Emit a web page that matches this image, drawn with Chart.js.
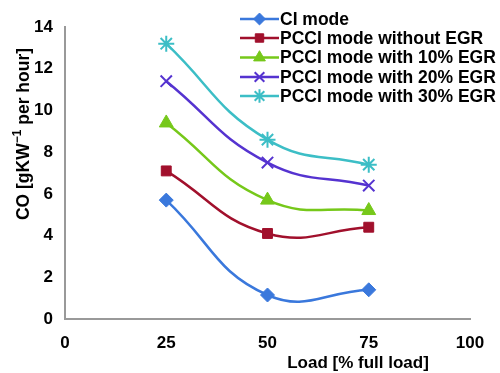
<!DOCTYPE html>
<html>
<head>
<meta charset="utf-8">
<script src="https://cdn.jsdelivr.net/npm/chart.js@4"></script>
<style>
html, body { margin: 0; padding: 0; background: #fff; }
#wrap { width: 500px; height: 373px; position: relative; }
</style>
</head>
<body>
<div id="wrap"><canvas id="myChart"></canvas></div>
<script>
var loads = [25, 50, 75];
var ciMode = [5.7, 1.15, 1.4];
var pcciNoEgr = [7.1, 4.1, 4.4];
var pcci10 = [9.4, 5.7, 5.2];
var pcci20 = [11.4, 7.5, 6.4];
var pcci30 = [13.2, 8.6, 7.4];
var xTicks = [0, 25, 50, 75, 100];
var seriesNames = ['CI mode', 'PCCI mode without EGR', 'PCCI mode with 10% EGR', 'PCCI mode with 20% EGR', 'PCCI mode with 30% EGR'];
var xTitle = 'Load [% full load]';
var yTitleParts = ['CO [gKW', '\u22121', ' per hour]'];

var FONT = '"Liberation Sans", Arial, sans-serif';

function pts(vals) {
	return vals.map(function (v, i) { return {x: loads[i], y: v}; });
}

function makeSet(i, vals, color, style, radius) {
	return {
		label: seriesNames[i],
		data: pts(vals),
		borderColor: color,
		backgroundColor: color,
		borderWidth: 2.5,
		pointStyle: style,
		pointRadius: radius,
		pointHoverRadius: radius,
		pointBorderWidth: (style == 'crossRot' || style == 'star') ? 2 : 1,
		tension: 0.45,
		fill: false
	};
}

//Legend drawn by hand: line with marker in the middle, like the original
var lineLegend = {
	id: 'lineLegend',
	afterDraw: function (chart) {
		var ctx = chart.ctx;
		var x0 = 240, x1 = 279, tx = 280;
		var rows = [19, 38, 57.5, 77, 96];
		ctx.save();
		chart.data.datasets.forEach(function (ds, i) {
			var y = rows[i];
			ctx.strokeStyle = ds.borderColor;
			ctx.lineWidth = 2.5;
			ctx.beginPath();
			ctx.moveTo(x0, y);
			ctx.lineTo(x1, y);
			ctx.stroke();
			ctx.fillStyle = ds.backgroundColor;
			ctx.lineWidth = ds.pointBorderWidth;
			Chart.helpers.drawPoint(ctx, {pointStyle: ds.pointStyle, radius: ds.pointRadius * 0.85, borderWidth: ds.pointBorderWidth}, (x0 + x1) / 2, y);
			ctx.fillStyle = '#000';
			ctx.font = 'bold 17.5px ' + FONT;
			ctx.textBaseline = 'middle';
			ctx.textAlign = 'left';
			ctx.fillText(ds.label, tx, y + 1);
		});
		ctx.restore();
	}
};

//Axis titles placed by hand (the original sits off-centre), y title has a superscript
var axisTitles = {
	id: 'axisTitles',
	afterDraw: function (chart) {
		var ctx = chart.ctx;
		ctx.save();
		ctx.fillStyle = '#000';
		ctx.textBaseline = 'middle';
		ctx.font = 'bold 17px ' + FONT;
		ctx.textAlign = 'center';
		ctx.fillText(xTitle, 358, 363);

		//rotated y title
		var big = 'bold 17.5px ' + FONT, small = 'bold 12px ' + FONT;
		ctx.font = big;
		var w1 = ctx.measureText(yTitleParts[0]).width;
		var w3 = ctx.measureText(yTitleParts[2]).width;
		ctx.font = small;
		var w2 = ctx.measureText(yTitleParts[1]).width;
		var total = w1 + w2 + w3;
		ctx.translate(24, 134);
		ctx.rotate(-Math.PI / 2);
		ctx.textAlign = 'left';
		var x = -total / 2;
		ctx.font = big;
		ctx.fillText(yTitleParts[0], x, 0);
		ctx.font = small;
		ctx.fillText(yTitleParts[1], x + w1, -6);
		ctx.font = big;
		ctx.fillText(yTitleParts[2], x + w1 + w2, 0);
		ctx.restore();
	}
};

var ctx = document.getElementById('myChart');
var myChart = new Chart(ctx, {
	type: 'line',
	data: {
		datasets: [
			makeSet(0, ciMode, '#3a78dc', 'rectRot', 7),
			makeSet(1, pcciNoEgr, '#a1102c', 'rect', 7),
			makeSet(2, pcci10, '#76c81a', 'triangle', 8),
			makeSet(3, pcci20, '#5533d0', 'crossRot', 8),
			makeSet(4, pcci30, '#3cbec6', 'star', 8)
		]
	},
	options: {
		responsive: true,
		maintainAspectRatio: false,
		animation: false,
		layout: {padding: {top: 27, right: 30, left: 0, bottom: 0}},
		plugins: {
			legend: {display: false},
			tooltip: {enabled: false}
		},
		scales: {
			x: {
				type: 'linear',
				min: 0,
				max: 100,
				afterBuildTicks: function (scale) {
					scale.ticks = xTicks.map(function (v) { return {value: v}; });
				},
				grid: {display: false, drawTicks: false},
				border: {color: '#999', width: 2},
				ticks: {color: '#000', padding: 14, font: {family: FONT, size: 17, weight: 'bold'}, maxRotation: 0},
				title: {display: false},
				afterFit: function (scale) { scale.height = 54; }
			},
			y: {
				min: 0,
				max: 14,
				grid: {display: false, drawTicks: false},
				border: {color: '#999', width: 2},
				ticks: {stepSize: 2, color: '#000', padding: 12, font: {family: FONT, size: 17, weight: 'bold'}},
				title: {display: false},
				afterFit: function (scale) { scale.width = 65; }
			}
		}
	},
	plugins: [lineLegend, axisTitles]
});
</script>
</body>
</html>
